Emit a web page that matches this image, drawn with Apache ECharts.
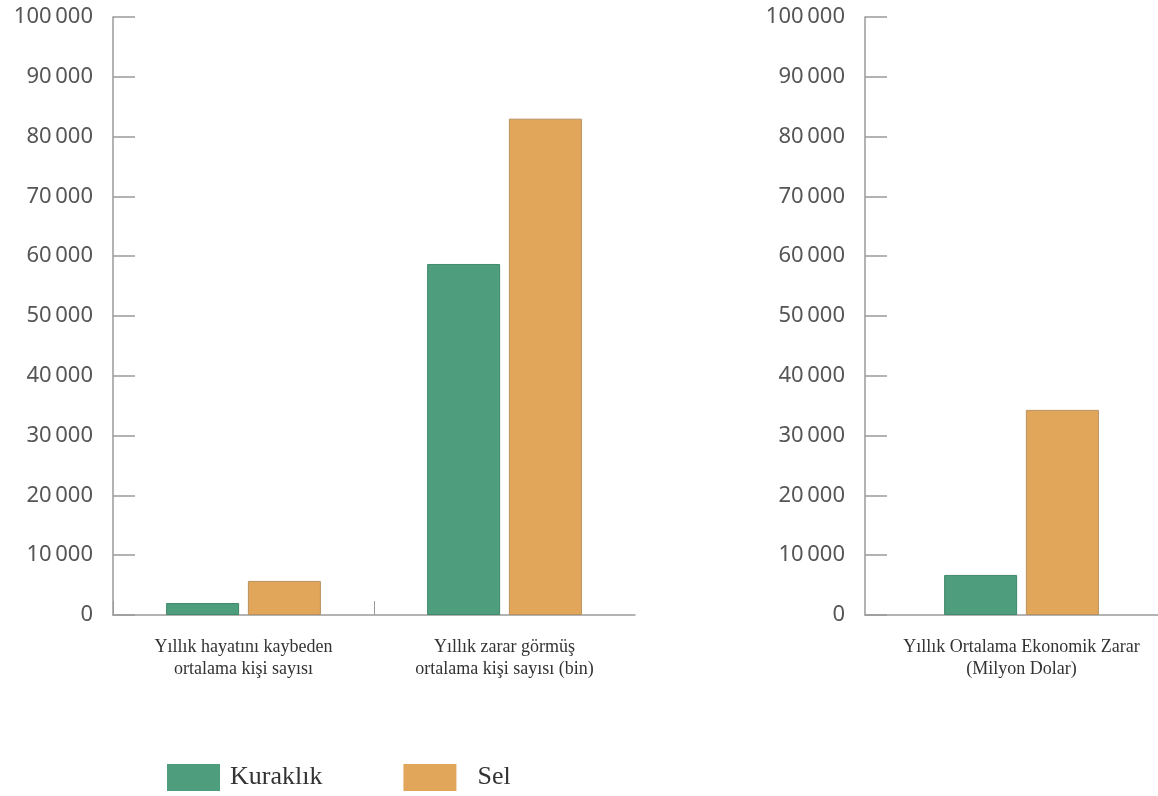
<!DOCTYPE html>
<html>
<head>
<meta charset="utf-8">
<script src="https://cdn.jsdelivr.net/npm/echarts@6/dist/echarts.min.js"></script>
<style>html,body{margin:0;padding:0;background:#fff;}#c{width:1158px;height:796px;}</style>
</head>
<body>
<div id="c"></div>
<script>
var leftCategories = ['Yıllık hayatını kaybeden\nortalama kişi sayısı', 'Yıllık zarar görmüş\nortalama kişi sayısı (bin)'];
var rightCategories = ['Yıllık Ortalama Ekonomik Zarar\n(Milyon Dolar)'];
var seriesNames = ['Kuraklık', 'Sel'];
var kuraklikLeft = [2000, 58700];
var selLeft = [5700, 83000];
var kuraklikRight = [6700];
var selRight = [34300];
var yMin = 0, yMax = 100000, yInterval = 10000;

var green = '#4E9D7C', orange = '#E2A65A';
var axisGray = '#9a9a9a';

function fmt(v) { return String(v).replace(/\B(?=(\d{3})+(?!\d))/g, '\u2009'); }

function yAxis(gi) {
  return {
    type: 'value', gridIndex: gi, min: yMin, max: yMax, interval: yInterval,
    axisLine: { show: true, lineStyle: { color: axisGray, width: 1.5 } },
    axisTick: { show: true, inside: true, length: 22, lineStyle: { color: axisGray, width: 1.5 } },
    splitLine: { show: false },
    axisLabel: { formatter: fmt, fontFamily: 'Noto Sans', fontSize: 22, color: '#555', margin: 20, padding: [5, 0, 0, 0] }
  };
}
function xAxis(gi, cats) {
  return {
    type: 'category', gridIndex: gi, data: cats,
    axisLine: { show: true, lineStyle: { color: axisGray, width: 1.5 } },
    axisTick: { show: false },
    axisLabel: { fontFamily: 'Liberation Serif', fontSize: 18, color: '#333', margin: 21, lineHeight: 22, interval: 0 }
  };
}
var barCommon = { type: 'bar', barWidth: 73, barGap: '12%' };

var option = {
  animation: false,
  backgroundColor: '#fff',
  grid: [
    { left: 113, top: 17, width: 522, bottom: 181, outerBoundsMode: 'none' },
    { left: 865, top: 17, width: 313, bottom: 181, outerBoundsMode: 'none' },
    { left: 113, top: 17, width: 261, bottom: 181, outerBoundsMode: 'none' }
  ],
  xAxis: [
    xAxis(0, leftCategories),
    xAxis(1, rightCategories),
    { type: 'category', gridIndex: 2, data: [leftCategories[0]],
      axisLine: { show: false }, axisLabel: { show: false },
      axisTick: { show: true, inside: true, length: 14, lineStyle: { color: axisGray, width: 1 } } }
  ],
  yAxis: [yAxis(0), yAxis(1), { type: 'value', gridIndex: 2, show: false, min: yMin, max: yMax }],
  legend: {
    left: 162, top: 759, itemWidth: 53, itemHeight: 27, itemGap: 81,
    icon: 'rect',
    itemStyle: { borderWidth: 0 },
    textStyle: { fontFamily: 'Liberation Serif', fontSize: 26, color: '#333', padding: [0, 0, 0, 5] },
    data: [ { name: seriesNames[0] }, { name: seriesNames[1], textStyle: { padding: [0, 0, 0, 16] } } ]
  },
  series: [
    Object.assign({}, barCommon, { name: seriesNames[0], xAxisIndex: 0, yAxisIndex: 0, data: kuraklikLeft, itemStyle: { color: green, borderColor: '#3f8a6b', borderWidth: 1 } }),
    Object.assign({}, barCommon, { name: seriesNames[1], xAxisIndex: 0, yAxisIndex: 0, data: selLeft, itemStyle: { color: orange, borderColor: '#b89060', borderWidth: 1 } }),
    Object.assign({}, barCommon, { name: seriesNames[0], xAxisIndex: 1, yAxisIndex: 1, data: kuraklikRight, itemStyle: { color: green, borderColor: '#3f8a6b', borderWidth: 1 } }),
    Object.assign({}, barCommon, { name: seriesNames[1], xAxisIndex: 1, yAxisIndex: 1, data: selRight, itemStyle: { color: orange, borderColor: '#b89060', borderWidth: 1 } })
  ]
};
echarts.init(document.getElementById('c')).setOption(option);
</script>
</body>
</html>
